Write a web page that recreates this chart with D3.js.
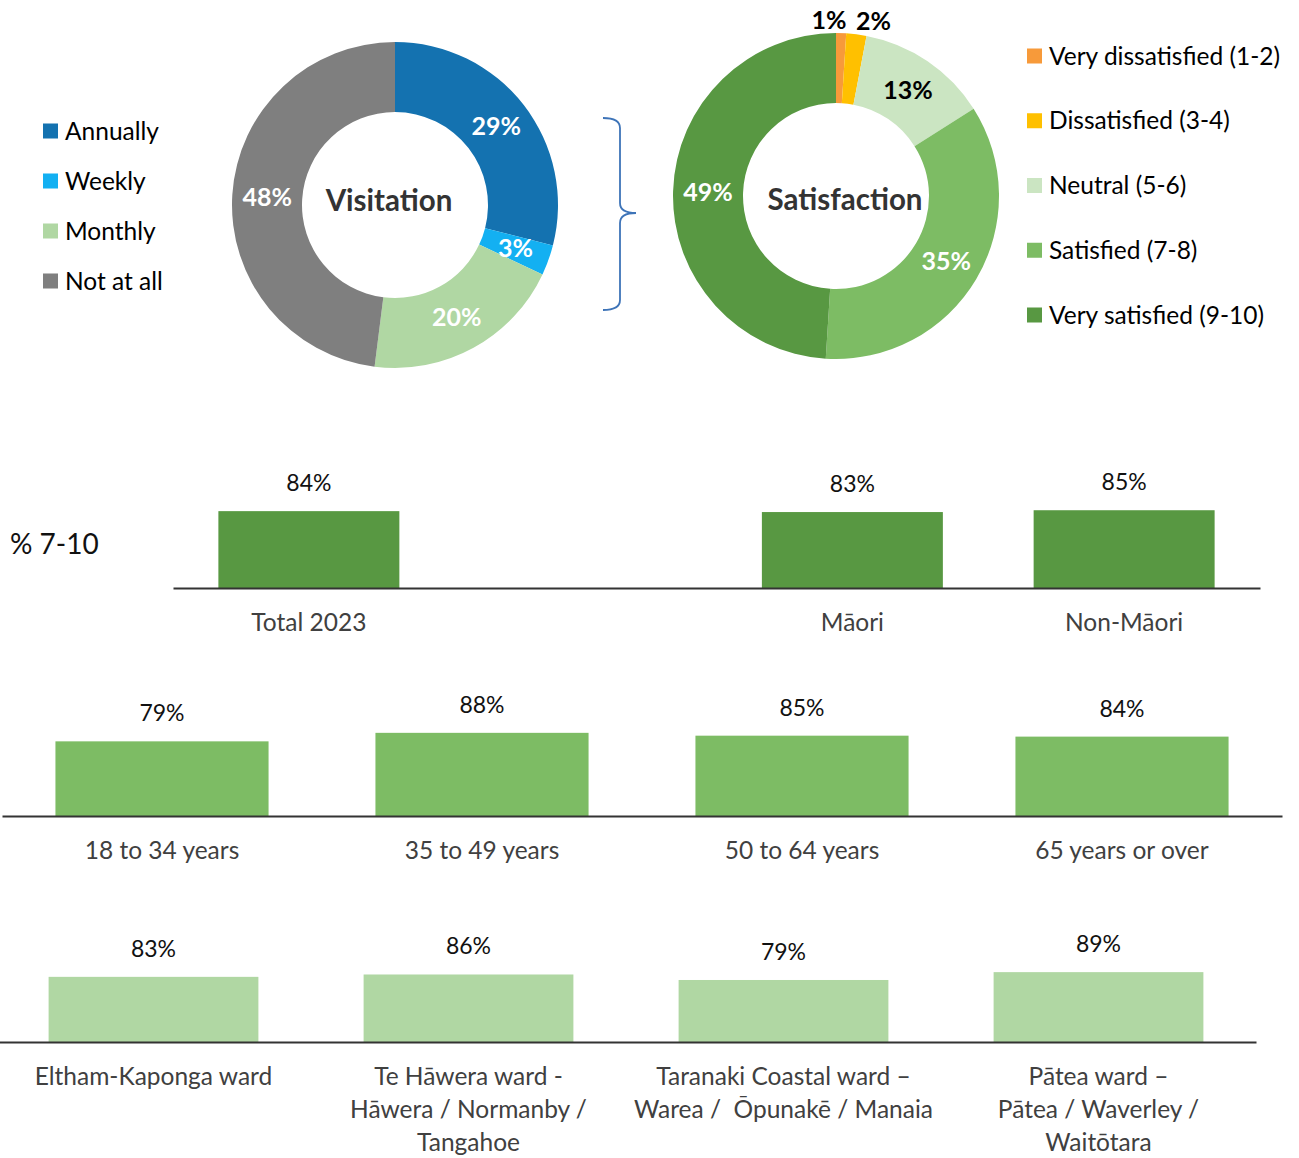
<!DOCTYPE html>
<html>
<head>
<meta charset="utf-8">
<script src="https://cdn.jsdelivr.net/npm/d3@7"></script>
<style>
  body { margin: 0; background: #fff; }
  svg { display: block; font-family: Lato, "Open Sans", sans-serif; }
</style>
</head>
<body>
<svg id="chart" width="1299" height="1158"></svg>
<script>
// Visitation donut
const visitCats = ["Annually", "Weekly", "Monthly", "Not at all"];
const visitVals = [29, 3, 20, 48];
const visitColors = ["#1472B0", "#13B0F2", "#B0D7A3", "#7F7F7F"];

// Satisfaction donut
const satCats = ["Very dissatisfied (1-2)", "Dissatisfied (3-4)", "Neutral (5-6)", "Satisfied (7-8)", "Very satisfied (9-10)"];
const satVals = [1, 2, 13, 35, 49];
const satColors = ["#F79A3A", "#FFC000", "#CBE5C2", "#7DBC64", "#589842"];

// % 7-10 by group
const groupCats = ["Total 2023", "Māori", "Non-Māori"];
const groupVals = [84, 83, 85];

// % 7-10 by age
const ageCats = ["18 to 34 years", "35 to 49 years", "50 to 64 years", "65 years or over"];
const ageVals = [79, 88, 85, 84];

// % 7-10 by ward (label lines)
const wardCats = [
  ["Eltham-Kaponga ward"],
  ["Te Hāwera ward -", "Hāwera / Normanby /", "Tangahoe"],
  ["Taranaki Coastal ward –", "Warea /  Ōpunakē / Manaia"],
  ["Pātea ward –", "Pātea / Waverley /", "Waitōtara"]
];
const wardVals = [83, 86, 79, 89];

const svg = d3.select("#chart");
const fmt = v => v + "%";

// ---------- donuts ----------
function donut(cx, cy, values, colors, title, titleShift, labelFill) {
  const outerR = 163, innerR = 93;
  const g = svg.append("g").attr("transform", `translate(${cx},${cy})`);
  const pie = d3.pie().sort(null).value(d => d)(values);
  const arc = d3.arc().innerRadius(innerR).outerRadius(outerR);
  g.selectAll("path").data(pie).join("path")
    .attr("d", arc)
    .attr("fill", (d, i) => colors[i]);
  const smallIdx = [];
  pie.forEach((d, i) => { if (d.data < 5) smallIdx.push(i); });
  g.selectAll("text.val").data(pie).join("text")
    .attr("class", "val")
    .attr("text-anchor", "middle")
    .attr("font-weight", 700)
    .attr("font-size", 25)
    .attr("fill", (d, i) => labelFill(d, i))
    .attr("transform", (d, i) => {
      if (d.data < 5 && smallIdx.length > 1) {
        // thin slices: labels sit above the ring, spread apart
        const a = (d.startAngle + d.endAngle) / 2;
        const k = smallIdx.indexOf(i);
        const x = Math.sin(a) * outerR + (k === 0 ? -12 : 17);
        const y = -Math.cos(a) * outerR - 13;
        return `translate(${x},${y})`;
      }
      const [x, y] = arc.centroid(d);
      return `translate(${x},${y})`;
    })
    .attr("dy", "0.35em")
    .text(d => fmt(d.data));
  g.append("text")
    .attr("x", titleShift[0])
    .attr("y", titleShift[1])
    .attr("text-anchor", "middle")
    .attr("dy", "0.35em")
    .attr("font-weight", 700)
    .attr("font-size", 29.5)
    .attr("fill", "#333")
    .text(title);
}

donut(395, 205, visitVals, visitColors, "Visitation", [-6, -4], () => "#fff");
donut(836, 196, satVals, satColors, "Satisfaction", [9, 4], (d, i) => (d.data < 5 || i === 2) ? "#000" : "#fff");

// left legend
const legL = svg.append("g").attr("transform", "translate(43,131)");
legL.selectAll("g").data(visitCats).join("g")
  .attr("transform", (d, i) => `translate(0,${i * 50})`)
  .call(s => {
    s.append("rect").attr("y", -7.5).attr("width", 15).attr("height", 15).attr("fill", (d, i) => visitColors[i]);
    s.append("text").attr("x", 22).attr("dy", "0.35em").attr("font-size", 24.5).attr("fill", "#000").text(d => d);
  });

// right legend
const legR = svg.append("g").attr("transform", "translate(1027,56)");
legR.selectAll("g").data(satCats).join("g")
  .attr("transform", (d, i) => `translate(0,${i * 64.75})`)
  .call(s => {
    s.append("rect").attr("y", -7.5).attr("width", 15).attr("height", 15).attr("fill", (d, i) => satColors[i]);
    s.append("text").attr("x", 22).attr("dy", "0.35em").attr("font-size", 24.5).attr("fill", "#000").text(d => d);
  });

// brace linking the two donuts
const brace = d3.path();
brace.moveTo(603, 118);
brace.quadraticCurveTo(620, 118, 620, 128);
brace.lineTo(620, 203);
brace.quadraticCurveTo(620, 213, 636, 213);
brace.quadraticCurveTo(620, 213, 620, 223);
brace.lineTo(620, 300);
brace.quadraticCurveTo(620, 310, 603, 310);
svg.append("path").attr("d", brace.toString())
  .attr("fill", "none").attr("stroke", "#3E74B8").attr("stroke-width", 1.8);

// ---------- bar panels ----------
function barPanel(opts) {
  const { domain, cats, vals, x0, x1, baseY, pxPerPct, color, labelLines } = opts;
  const x = d3.scaleBand().domain(domain).range([x0, x1]).paddingInner(0.334).paddingOuter(0.167);
  const y = d3.scaleLinear().domain([0, 100]).range([baseY, baseY - 100 * pxPerPct]);
  const g = svg.append("g");
  g.selectAll("rect").data(cats).join("rect")
    .attr("x", d => x(d))
    .attr("width", x.bandwidth())
    .attr("y", (d, i) => y(vals[i]))
    .attr("height", (d, i) => baseY - y(vals[i]))
    .attr("fill", color);
  g.selectAll("text.v").data(cats).join("text")
    .attr("class", "v")
    .attr("x", d => x(d) + x.bandwidth() / 2)
    .attr("y", (d, i) => y(vals[i]) - 20)
    .attr("text-anchor", "middle")
    .attr("font-size", 23)
    .attr("fill", "#111")
    .text((d, i) => fmt(vals[i]));
  const axis = d3.axisBottom(x).tickSize(0).tickFormat("");
  const ag = g.append("g").attr("transform", `translate(0,${baseY})`).call(axis);
  ag.select(".domain").attr("stroke", "#333").attr("stroke-width", 2);
  ag.selectAll(".tick text").remove();
  g.selectAll("text.c").data(cats).join("text")
    .attr("class", "c")
    .attr("text-anchor", "middle")
    .attr("font-size", 24.5)
    .attr("fill", "#404040")
    .each(function (d, i) {
      const lines = labelLines ? labelLines[i] : [d];
      const t = d3.select(this);
      lines.forEach((ln, j) => {
        t.append("tspan")
          .attr("x", x(d) + x.bandwidth() / 2)
          .attr("y", baseY + 43 + j * 33)
          .attr("xml:space", "preserve")
          .text(ln);
      });
    });
}

barPanel({
  domain: [groupCats[0], "_", groupCats[1], groupCats[2]],
  cats: groupCats, vals: groupVals,
  x0: 173, x1: 1260, baseY: 588, pxPerPct: 0.915, color: "#589842"
});
svg.append("text").attr("x", 10).attr("y", 554).attr("font-size", 28).attr("fill", "#111").text("% 7-10");

barPanel({
  domain: ageCats, cats: ageCats, vals: ageVals,
  x0: 2, x1: 1282, baseY: 816, pxPerPct: 0.945, color: "#7DBC64"
});

const wardKeys = wardCats.map(l => l.join(" "));
barPanel({
  domain: wardKeys, cats: wardKeys, vals: wardVals,
  x0: -4, x1: 1256, baseY: 1042, pxPerPct: 0.785, color: "#B0D7A3",
  labelLines: wardCats
});
</script>
</body>
</html>
